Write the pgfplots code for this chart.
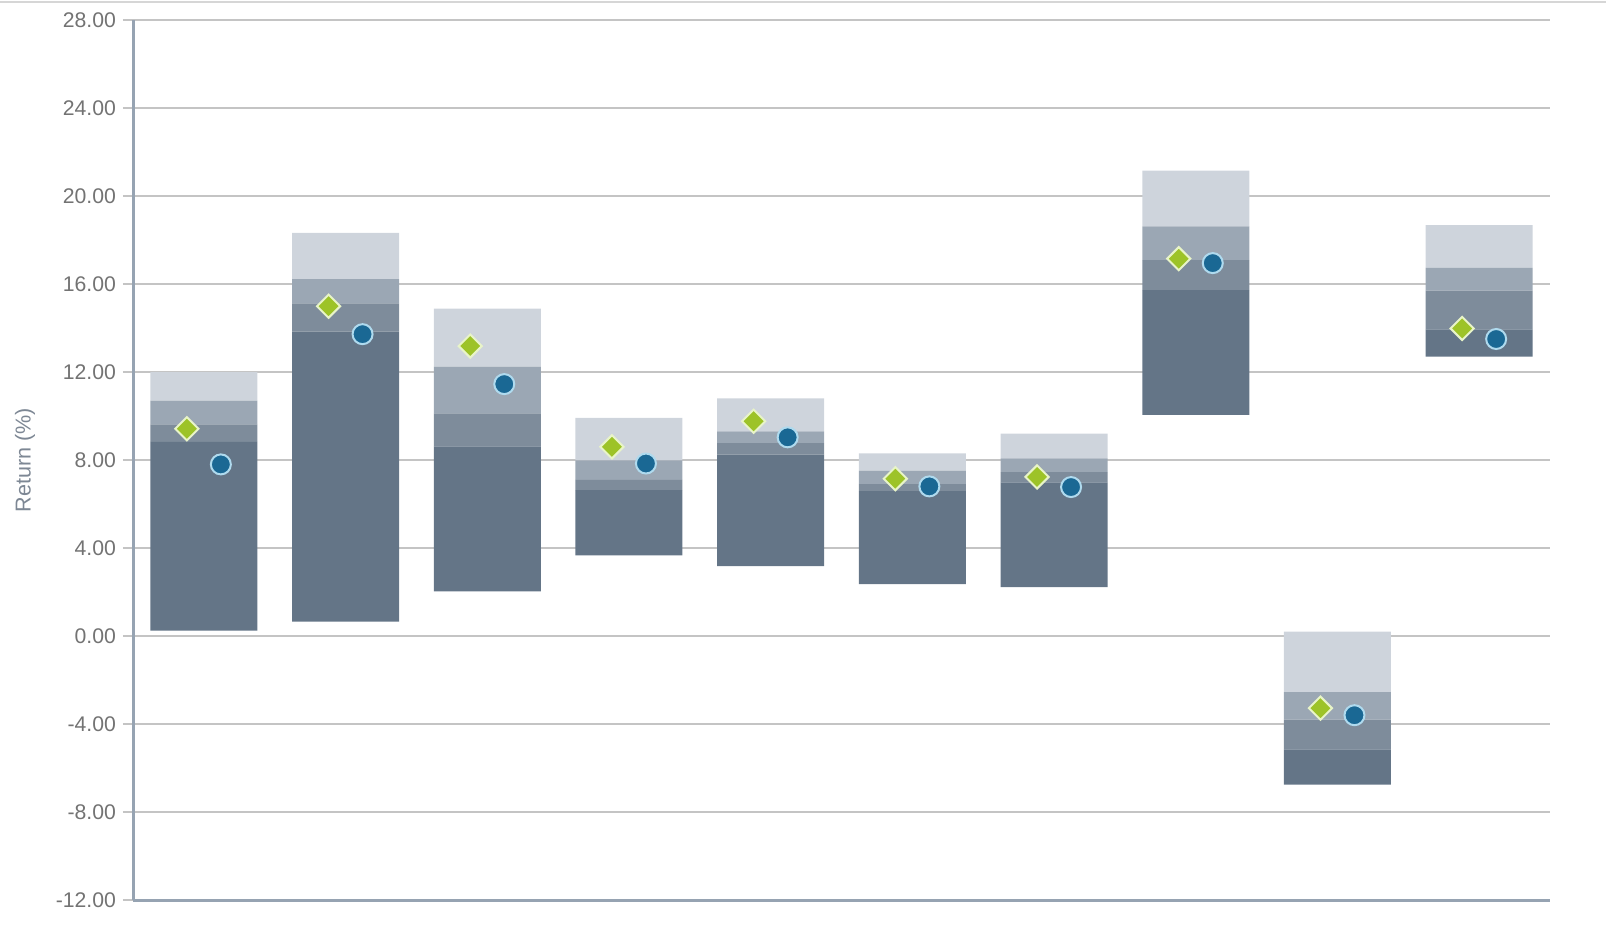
\documentclass[border=0pt]{standalone}
\usepackage{pgfplots}
\usepackage{pgfplotstable}
\usepackage{fontspec}
\setmainfont{Liberation Sans}
\pgfplotsset{compat=1.18}

\definecolor{layerA}{RGB}{206,212,220}
\definecolor{layerB}{RGB}{155,167,180}
\definecolor{layerC}{RGB}{126,140,155}
\definecolor{layerD}{RGB}{100,117,135}
\definecolor{gridcol}{RGB}{196,196,196}
\definecolor{axiscol}{RGB}{150,163,178}
\definecolor{tickcol}{RGB}{115,115,115}
\definecolor{labcol}{RGB}{125,135,148}
\definecolor{dia}{RGB}{157,195,40}
\definecolor{diaedge}{RGB}{232,244,200}
\definecolor{dot}{RGB}{26,104,148}
\definecolor{dotedge}{RGB}{175,218,238}

% lo = bottom, d/m/l = tops of the dark, middle, light-middle bands, top = top
\pgfplotstableread{
x    lo     d      m      l      top    dia    dot
0.5  0.25   8.82   9.62   10.70  12.00  9.42   7.80
1.5  0.65   13.84  15.12  16.22  18.32  14.99  13.72
2.5  2.03   8.62   10.12  12.24  14.88  13.18  11.45
3.5  3.67   6.63   7.10   7.98   9.92   8.60   7.84
4.5  3.18   8.24   8.77   9.30   10.80  9.76   9.03
5.5  2.36   6.58   6.90   7.52   8.30   7.15   6.80
6.5  2.22   6.98   7.45   8.07   9.20   7.23   6.77
7.5  10.05  15.72  17.08  18.62  21.15  17.15  16.95
8.5  -6.75  -5.15  -3.80  -2.55  0.20   -3.28  -3.60
9.5  12.70  13.94  15.70  16.73  18.68  13.98  13.50
}\data

\begin{document}
\begin{tikzpicture}
\useasboundingbox (-66.5bp,-17bp) rectangle (736.5bp,450bp);
\draw[gridcol!70, line width=0.8bp] (-66.5bp,449bp) -- (736.5bp,449bp);

\begin{axis}[
  scale only axis, width=708.5bp, height=440bp,
  xmin=0, xmax=10, ymin=-12, ymax=28,
  axis lines*=left,
  axis line style={draw=axiscol, line width=1.5bp},
  xtick=\empty,
  ytick={-12,-8,...,28},
  tick align=outside,
  major tick length=5bp,
  ytick style={draw=gridcol, line width=1bp},
  ymajorgrids,
  grid style={draw=gridcol, line width=1bp},
  yticklabel style={
    /pgf/number format/fixed,
    /pgf/number format/fixed zerofill,
    /pgf/number format/precision=2,
    /pgf/number format/assume math mode=true,
    font=\fontsize{10.6bp}{12bp}\selectfont, text=tickcol},
  ylabel={Return (\%)},
  every axis y label/.style={at={(axis description cs:-0.0762,0.5)},
    rotate=90, anchor=center,
    font=\fontsize{10.8bp}{12bp}\selectfont, text=labcol},
  ybar stacked, stack negative=on previous, bar width=53.5bp,
]
\addplot [draw=none, fill=none] table [x=x, y=lo] {\data};
\addplot [draw=none, fill=layerD] table [x=x, y expr=\thisrow{d}-\thisrow{lo}] {\data};
\addplot [draw=none, fill=layerC] table [x=x, y expr=\thisrow{m}-\thisrow{d}] {\data};
\addplot [draw=none, fill=layerB] table [x=x, y expr=\thisrow{l}-\thisrow{m}] {\data};
\addplot [draw=none, fill=layerA] table [x=x, y expr=\thisrow{top}-\thisrow{l}] {\data};
\end{axis}

\begin{axis}[
  scale only axis, width=708.5bp, height=440bp,
  xmin=0, xmax=10, ymin=-12, ymax=28,
  axis lines=none, xtick=\empty, ytick=\empty,
  clip=false,
]
\addplot [only marks, mark=square*, mark size=4.1bp,
  mark options={rotate=45, fill=dia, draw=diaedge, line width=1bp}]
  table [x expr=\thisrow{x}-0.12, y=dia] {\data};
\addplot [only marks, mark=*, mark size=5bp,
  mark options={fill=dot, draw=dotedge, line width=1bp}]
  table [x expr=\thisrow{x}+0.12, y=dot] {\data};
\end{axis}
\end{tikzpicture}
\end{document}
